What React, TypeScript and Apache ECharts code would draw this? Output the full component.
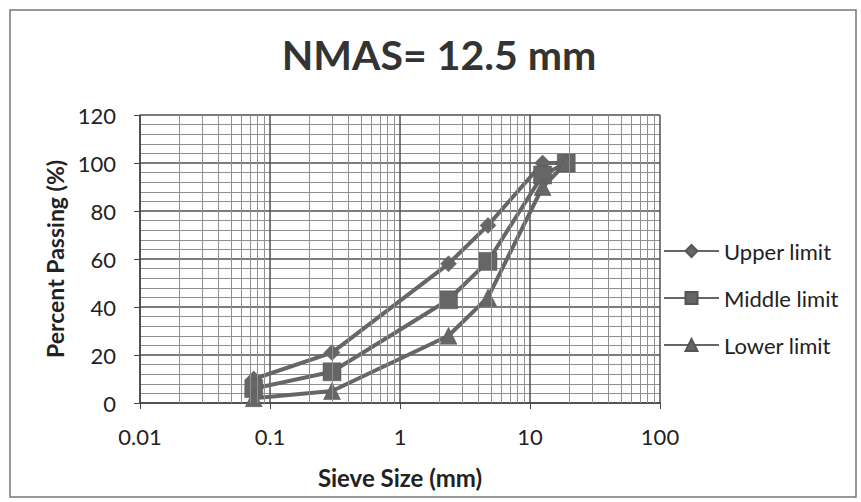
import React, { useEffect, useRef } from "react";
import * as echarts from "echarts";

const sieveSizes = [0.075, 0.3, 2.36, 4.75, 12.5, 19];
const upperLimit = [10, 21, 58, 74, 100, 100];
const middleLimit = [6, 13, 43, 59, 95, 100];
const lowerLimit = [2, 5, 28, 44, 90, 100];
const seriesNames = ["Upper limit", "Middle limit", "Lower limit"];
const decades = [0.01, 0.1, 1, 10];
const minorSteps = [2, 3, 4, 5, 6, 7, 8, 9];

const FONT = "Lato";
const LINE = "#666666";

export default function App() {
  const ref = useRef<HTMLDivElement>(null);
  useEffect(() => {
    if (!ref.current) return;
    const chart = echarts.init(ref.current, undefined, { renderer: "svg" });
    const pair = (ys: number[]) => sieveSizes.map((x, i) => [x, ys[i]]);
    const minorX: number[] = [];
    decades.forEach((d) => minorSteps.forEach((k) => minorX.push(+(d * k).toPrecision(3))));
    const lineSeries = (name: string, ys: number[], symbol: string, size: number) => ({
      name,
      type: "line",
      data: pair(ys),
      symbol,
      symbolSize: size,
      showAllSymbol: true,
      z: 3,
      lineStyle: { color: LINE, width: 4 },
      itemStyle: { color: LINE, borderColor: "#555", borderWidth: 0.5 },
    });
    chart.setOption({
      animation: false,
      backgroundColor: "#fff",
      textStyle: { fontFamily: FONT },
      title: {
        text: "NMAS= 12.5 mm",
        left: 434,
        top: 29,
        textAlign: "center",
        textStyle: { fontFamily: FONT, fontWeight: "bold", fontSize: 41, color: "#333" },
      },
      legend: {
        orient: "vertical",
        left: 658,
        top: 234,
        data: seriesNames,
        itemWidth: 55,
        itemHeight: 15,
        itemGap: 23,
        textStyle: { fontFamily: FONT, fontSize: 22, color: "#222", lineHeight: 24 },
      },
      grid: { left: 140, right: 201, top: 115, bottom: 99 },
      xAxis: {
        type: "log",
        logBase: 10,
        min: 0.01,
        max: 100,
        name: "Sieve Size (mm)",
        nameLocation: "middle",
        nameGap: 62,
        nameTextStyle: { fontFamily: FONT, fontWeight: "bold", fontSize: 24, color: "#222" },
        axisLine: { show: true, onZero: false, lineStyle: { color: "#444", width: 1.5 } },
        axisTick: { show: true, length: 6, lineStyle: { color: "#444" } },
        axisLabel: {
          margin: 22,
          fontFamily: FONT,
          fontSize: 22,
          color: "#222",
          formatter: (v: number) => {
            const e = Math.round(Math.log10(v));
            return e < 0 ? v.toFixed(-e) : String(Math.round(v));
          },
        },
        splitLine: { show: true, lineStyle: { color: "#505050", width: 1.5 } },
        minorTick: { show: false },
        minorSplitLine: { show: false },
      },
      yAxis: {
        type: "value",
        min: 0,
        max: 120,
        interval: 20,
        name: "Percent Passing (%)",
        nameLocation: "middle",
        nameGap: 70,
        nameTextStyle: { fontFamily: FONT, fontWeight: "bold", fontSize: 23, color: "#222" },
        axisLine: { show: true, lineStyle: { color: "#444", width: 1.5 } },
        axisTick: { show: true, length: 6, lineStyle: { color: "#444" } },
        axisLabel: { margin: 24, fontFamily: FONT, fontSize: 22, color: "#222" },
        splitLine: { show: true, lineStyle: { color: "#505050", width: 1.5 } },
        minorTick: { show: false, splitNumber: 5 },
        minorSplitLine: { show: true, lineStyle: { color: "#909090", width: 1 } },
      },
      graphic: [
        {
          type: "rect",
          shape: { x: 10, y: 10, width: 846, height: 487 },
          style: { fill: "none", stroke: "#777", lineWidth: 1.5 },
          silent: true,
        },
      ],
      series: [
        {
          name: "minor-grid",
          type: "line",
          data: [[1, 0]],
          symbol: "none",
          lineStyle: { opacity: 0 },
          z: 1,
          silent: true,
          markLine: {
            silent: true,
            symbol: ["none", "none"],
            label: { show: false },
            lineStyle: { type: "solid", color: "#909090", width: 1 },
            data: minorX.map((x) => ({ xAxis: x })),
          },
        },
        lineSeries(seriesNames[0], upperLimit, "diamond", 16),
        lineSeries(seriesNames[1], middleLimit, "rect", 18),
        lineSeries(seriesNames[2], lowerLimit, "triangle", 17),
      ],
    });
    return () => chart.dispose();
  }, []);
  return <div ref={ref} style={{ position: "absolute", left: 0, top: 0, width: 861, height: 502 }} />;
}
